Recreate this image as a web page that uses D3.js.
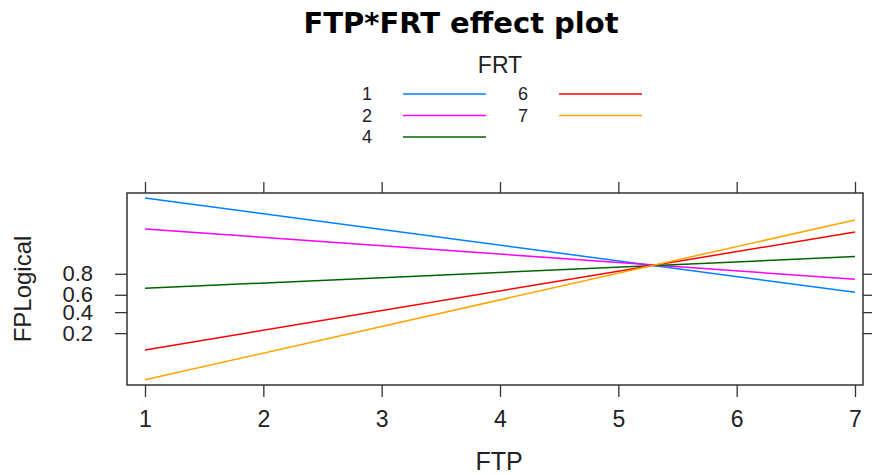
<!DOCTYPE html>
<html>
<head>
<meta charset="utf-8">
<script src="https://cdn.jsdelivr.net/npm/d3@7"></script>
<style>
	body{margin:0;background:#fff;}
	svg{display:block;}
	.axis path{display:none;}
	.axis line{stroke:#333;stroke-width:1.3;}
	.axis text{font-family:"Liberation Sans",Arial,sans-serif;fill:#222;}
</style>
</head>
<body>
<svg id="chart" width="875" height="475"></svg>
<script>
// fitted probabilities at FTP = 1 and FTP = 7, one line per FRT level
let ftp = [1, 7];
let frtLevels = ['1', '2', '4', '6', '7'];
let frt1 = [0.9928, 0.627];
let frt2 = [0.9701, 0.756];
let frt4 = [0.670, 0.8993];
let frt6 = [0.1025, 0.9658];
let frt7 = [0.0274, 0.9802];
let xTicks = [1, 2, 3, 4, 5, 6, 7];
let yTicks = [0.2, 0.4, 0.6, 0.8];

let series = [frt1, frt2, frt4, frt6, frt7];
let colors = ['#0080ff', '#ff00ff', '#006400', '#ff0000', '#ffa500'];

let svg = d3.select('#chart');
let font = '"Liberation Sans",Arial,sans-serif';
let box = {left: 127, right: 863, top: 193, bottom: 385};

let logit = p => Math.log(p / (1 - p));

let x = d3.scaleLinear().domain([1, 7]).range([145, 855]);
let yLin = d3.scaleLinear().domain([-3.81, 5.16]).range([box.bottom, box.top]);
let y = p => yLin(logit(p));

// title
svg.append('text')
	.attr('x', 461)
	.attr('y', 33)
	.attr('text-anchor', 'middle')
	.style('font-family', '"DejaVu Sans",sans-serif')
	.style('font-weight', 'bold')
	.style('font-size', '29px')
	.text('FTP*FRT effect plot');

// legend
let legend = svg.append('g');
legend.append('text')
	.attr('x', 500)
	.attr('y', 73)
	.attr('text-anchor', 'middle')
	.style('font-family', font)
	.style('font-size', '23px')
	.attr('fill', '#222')
	.text('FRT');

let leg = legend.selectAll('.leg').data(frtLevels).enter().append('g')
	.attr('class', 'leg')
	.attr('transform', (d, i) => 'translate(' + (i < 3 ? 0 : 156) + ',' + (94 + 21.5 * (i % 3)) + ')');
leg.append('text')
	.attr('x', 367)
	.attr('dy', '0.36em')
	.attr('text-anchor', 'middle')
	.style('font-family', font)
	.style('font-size', '18px')
	.attr('fill', '#222')
	.text(d => d);
leg.append('line')
	.attr('x1', 403).attr('x2', 486)
	.attr('stroke', (d, i) => colors[i])
	.attr('stroke-width', 1.5);

// axes
svg.append('g').attr('class', 'axis')
	.attr('transform', 'translate(0,' + box.bottom + ')')
	.call(d3.axisBottom(x).tickValues(xTicks).tickSize(12).tickPadding(14).tickFormat(d3.format('d')))
	.selectAll('text').style('font-size', '23px');

svg.append('g').attr('class', 'axis')
	.attr('transform', 'translate(0,' + box.top + ')')
	.call(d3.axisTop(x).tickValues(xTicks).tickSize(11).tickFormat(''));

svg.append('g').attr('class', 'axis')
	.attr('transform', 'translate(' + box.left + ',0)')
	.call(d3.axisLeft(yLin).tickValues(yTicks.map(logit)).tickSize(12).tickPadding(22)
		.tickFormat((d, i) => yTicks[i]))
	.selectAll('text').style('font-size', '22px');

svg.append('g').attr('class', 'axis')
	.attr('transform', 'translate(' + box.right + ',0)')
	.call(d3.axisRight(yLin).tickValues(yTicks.map(logit)).tickSize(9).tickFormat(''));

// lines
let line = d3.line()
	.x((d, i) => x(ftp[i]))
	.y(d => y(d));

svg.append('g').selectAll('path').data(series).enter().append('path')
	.attr('d', line)
	.attr('fill', 'none')
	.attr('stroke', (d, i) => colors[i])
	.attr('stroke-width', 1.5);

// panel frame
svg.append('rect')
	.attr('x', box.left).attr('y', box.top)
	.attr('width', box.right - box.left)
	.attr('height', box.bottom - box.top)
	.attr('fill', 'none')
	.attr('stroke', '#333')
	.attr('stroke-width', 1.5);

// axis titles
svg.append('text')
	.attr('x', 499)
	.attr('y', 470)
	.attr('text-anchor', 'middle')
	.style('font-family', font)
	.style('font-size', '25px')
	.attr('fill', '#222')
	.text('FTP');

svg.append('text')
	.attr('transform', 'translate(31,289) rotate(-90)')
	.attr('text-anchor', 'middle')
	.style('font-family', font)
	.style('font-size', '24px')
	.attr('fill', '#222')
	.text('FPLogical');
</script>
</body>
</html>
